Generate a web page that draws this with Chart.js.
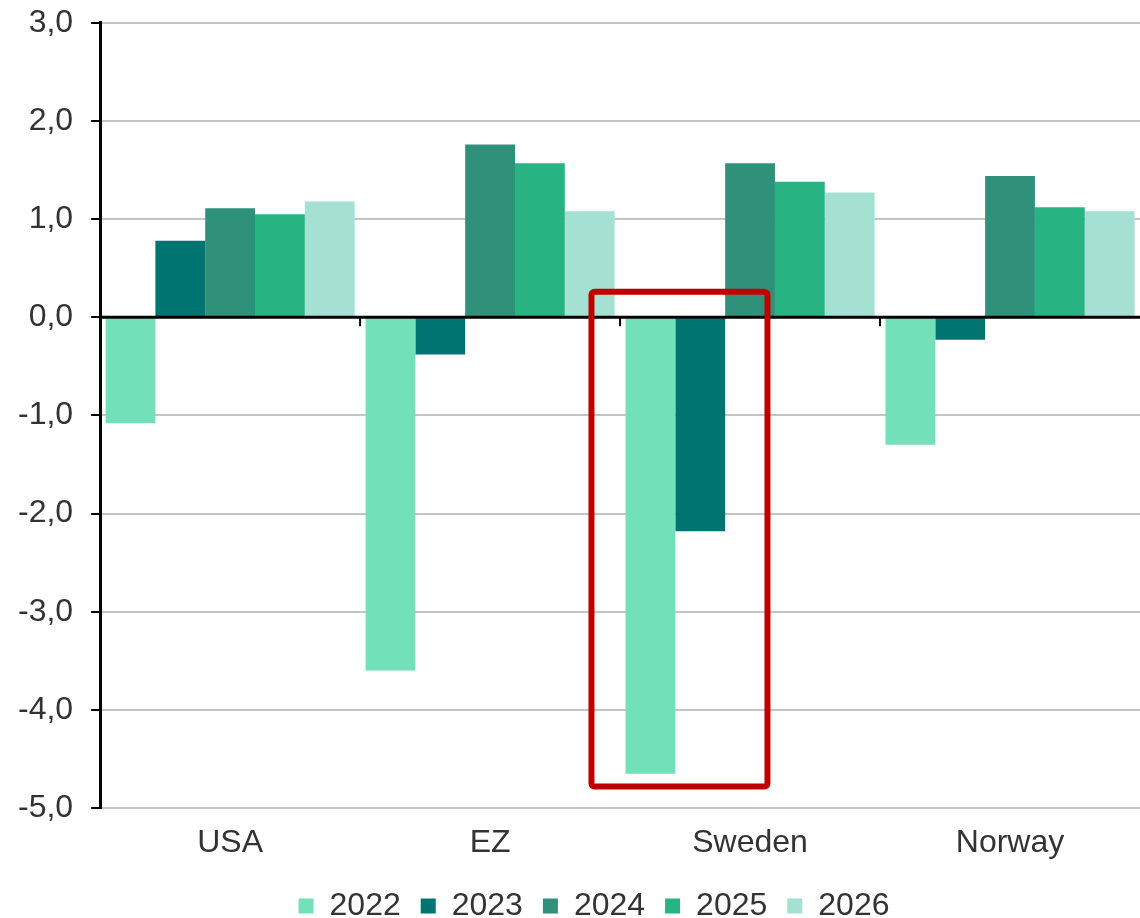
<!DOCTYPE html>
<html>
<head>
<meta charset="utf-8">
<script src="https://cdn.jsdelivr.net/npm/chart.js@4.4.0/dist/chart.umd.min.js"></script>
<style>
  html, body { margin: 0; padding: 0; background: #fff; }
  #wrap { width: 1140px; height: 918px; }
</style>
</head>
<body>
<div id="wrap"><canvas id="mychart" width="1140" height="918"></canvas></div>
<script>
// Dữ liệu
const countries = ["USA", "EZ", "Sweden", "Norway"];
const years = ["2022", "2023", "2024", "2025", "2026"];
const v2022 = [-1.08, -3.60, -4.65, -1.30];
const v2023 = [0.78, -0.38, -2.18, -0.23];
const v2024 = [1.11, 1.76, 1.57, 1.44];
const v2025 = [1.05, 1.57, 1.38, 1.12];
const v2026 = [1.18, 1.08, 1.27, 1.08];
const colors = ["#72E0B9", "#007470", "#30917A", "#28B383", "#A5E1D2"];
const yTicks = [3, 2, 1, 0, -1, -2, -3, -4, -5];

// Khung đỏ quanh Sweden (đơn vị của trục)
const boxX = [1.39, 2.067];
const boxY = [0.26, -4.78];

const allValues = [v2022, v2023, v2024, v2025, v2026];
const FONT = "Liberation Sans, Arial";

// Dời chú thích sang phải một chút
const legendShift = {
  id: "legendShift",
  afterLayout(chart) {
    chart.legend.left += 24;
    chart.legend.right += 24;
  },
};

// Vạch chia giữa các nhóm + đường 0 + khung đỏ
const extras = {
  id: "extras",
  afterDatasetsDraw(chart) {
    const { ctx, scales: { x, y }, chartArea } = chart;
    const zero = y.getPixelForValue(0);
    ctx.save();
    // đường 0
    ctx.strokeStyle = "#000";
    ctx.lineWidth = 3;
    ctx.beginPath();
    ctx.moveTo(chartArea.left, zero);
    ctx.lineTo(chartArea.right, zero);
    ctx.stroke();
    // tick giữa các nhóm
    ctx.lineWidth = 2;
    for (let i = 1; i < countries.length; i++) {
      const px = (x.getPixelForValue(i - 1) + x.getPixelForValue(i)) / 2;
      ctx.beginPath();
      ctx.moveTo(px, zero);
      ctx.lineTo(px, zero + 9);
      ctx.stroke();
    }
    // khung đỏ
    const cw = x.getPixelForValue(1) - x.getPixelForValue(0);
    const x0 = x.getPixelForValue(2) + (boxX[0] - 2) * cw;
    const x1 = x.getPixelForValue(2) + (boxX[1] - 2) * cw;
    const y0 = y.getPixelForValue(boxY[0]);
    const y1 = y.getPixelForValue(boxY[1]);
    ctx.strokeStyle = "#C00000";
    ctx.lineWidth = 6;
    ctx.lineJoin = "round";
    ctx.beginPath();
    ctx.roundRect(x0, y0, x1 - x0, y1 - y0, 3);
    ctx.stroke();
    ctx.restore();
  },
};

const ctx = document.getElementById("mychart").getContext("2d");
const mychart = new Chart(ctx, {
  type: "bar",
  data: {
    labels: countries,
    datasets: years.map((yr, i) => ({
      label: yr,
      data: allValues[i],
      backgroundColor: colors[i],
      borderWidth: 0,
      barPercentage: 1.0,
      categoryPercentage: 0.958,
    })),
  },
  options: {
    responsive: false,
    animation: false,
    layout: { padding: { left: 0, right: 0, top: 0, bottom: -14 } },
    plugins: {
      tooltip: { enabled: false },
      legend: {
        position: "bottom",
        labels: {
          font: { family: FONT, size: 32 },
          color: "#333",
          boxWidth: 15,
          boxHeight: 15,
          padding: 20,
        },
      },
    },
    scales: {
      x: {
        grid: { display: false },
        border: { display: false },
        ticks: {
          font: { family: FONT, size: 32, lineHeight: 1.0 },
          color: "#333",
          padding: 11,
        },
      },
      y: {
        min: -5,
        max: 3,
        afterBuildTicks: (axis) => {
          axis.ticks = yTicks.map((v) => ({ value: v }));
        },
        grid: {
          color: "#C4C4C4",
          lineWidth: 2,
          tickColor: "#000",
          tickLength: 9,
        },
        border: { display: true, color: "#000", width: 3 },
        ticks: {
          font: { family: FONT, size: 32, lineHeight: 0.3 },
          color: "#333",
          padding: 18,
          callback: (v) => v.toFixed(1).replace(".", ","),
        },
      },
    },
  },
  plugins: [extras, legendShift],
});
</script>
</body>
</html>
